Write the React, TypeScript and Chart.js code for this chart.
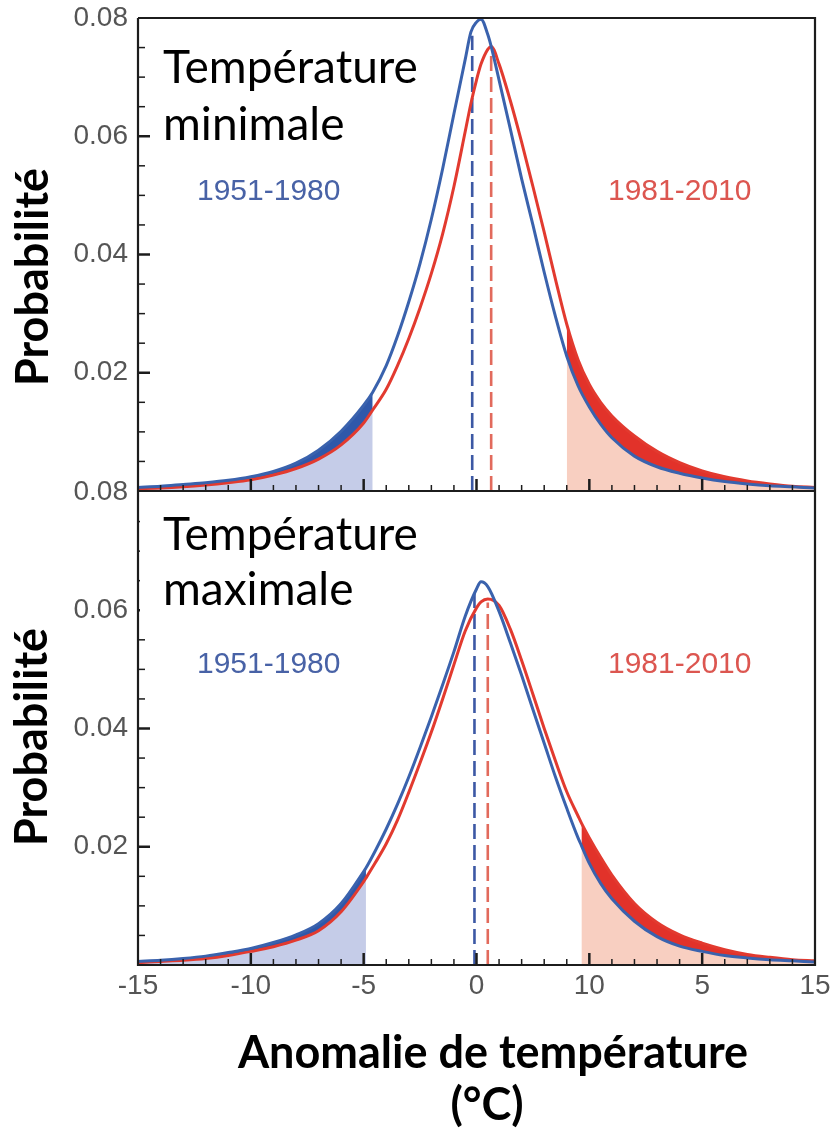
import { useEffect, useRef } from "react";
import { Chart, registerables } from "chart.js";

Chart.register(...registerables);

// ---------- axes ----------
const X_MIN = -15;
const X_MAX = 15;
const X_TICK_VALUES = [-15, -10, -5, 0, 5, 10, 15];
const X_TICK_LABELS = ["-15", "-10", "-5", "0", "10", "5", "15"];
const Y_MIN = 0;
const Y_MAX = 0.08;
const Y_TICKS = [0.02, 0.04, 0.06, 0.08];
const Y_MINOR_STEP = 0.005;
const X_MINOR_STEP = 1;

// ---------- panel 1 : Température minimale ----------
const MIN_X = [-15, -14, -13, -12, -11, -10, -9, -8, -7, -6, -5, -4.6, -4, -3.5, -3, -2.5, -2, -1.5, -1, -0.5, -0.25, 0, 0.2, 0.5, 0.65, 1, 1.5, 2, 2.5, 3, 3.5, 4, 4.5, 5, 5.5, 6, 7, 8, 9, 10, 11, 12, 13, 14, 15];
const MIN_1951_1980 = [0.0006, 0.0008, 0.0011, 0.0014, 0.0018, 0.0024, 0.0033, 0.0047, 0.0069, 0.0101, 0.0145, 0.0167, 0.0212, 0.0262, 0.032, 0.0385, 0.046, 0.0545, 0.0638, 0.073, 0.0776, 0.0793, 0.0798, 0.0772, 0.0752, 0.0695, 0.0612, 0.0528, 0.045, 0.037, 0.0295, 0.0228, 0.0178, 0.0142, 0.0113, 0.009, 0.0059, 0.0041, 0.003, 0.0022, 0.0016, 0.0012, 0.0009, 0.0007, 0.0005];
const MIN_1981_2010 = [0.0004, 0.0005, 0.0007, 0.001, 0.0014, 0.0019, 0.0027, 0.0038, 0.0054, 0.0078, 0.0115, 0.0137, 0.0172, 0.0212, 0.0258, 0.031, 0.0368, 0.0435, 0.0515, 0.0608, 0.0655, 0.0695, 0.0722, 0.0747, 0.0752, 0.0722, 0.066, 0.059, 0.0515, 0.0438, 0.0358, 0.0282, 0.0222, 0.018, 0.015, 0.0127, 0.0093, 0.0067, 0.0048, 0.0034, 0.0024, 0.0017, 0.0012, 0.0008, 0.0006];
const MIN_MEANS = [-0.19, 0.65];
const MIN_MEAN_TOPS = [0.077, 0.0743];
const MIN_TAIL_LIMITS = [-4.6, 4];

// ---------- panel 2 : Température maximale ----------
const MAX_X = [-15, -14, -13, -12, -11, -10, -9, -8, -7, -6, -5, -4.9, -4.5, -4, -3.5, -3, -2.5, -2, -1.5, -1, -0.5, 0, 0.2, 0.5, 1, 1.5, 2, 2.5, 3, 3.5, 4, 4.5, 4.65, 5, 5.5, 6, 7, 8, 9, 10, 11, 12, 13, 14, 15];
const MAX_1951_1980 = [0.0006, 0.0008, 0.0011, 0.0015, 0.0021, 0.0028, 0.0038, 0.0051, 0.007, 0.0104, 0.0158, 0.0164, 0.0192, 0.023, 0.0272, 0.0318, 0.0368, 0.042, 0.0474, 0.053, 0.059, 0.0636, 0.0648, 0.064, 0.0598, 0.0545, 0.049, 0.0432, 0.0375, 0.0318, 0.0265, 0.0215, 0.0202, 0.0172, 0.0138, 0.0112, 0.0074, 0.0048, 0.0032, 0.0023, 0.0016, 0.0012, 0.0009, 0.0007, 0.0005];
const MAX_1981_2010 = [0.0004, 0.0006, 0.0008, 0.0011, 0.0016, 0.0023, 0.0031, 0.0042, 0.0058, 0.009, 0.0141, 0.0147, 0.0172, 0.0205, 0.0245, 0.0292, 0.0342, 0.0394, 0.045, 0.0508, 0.0565, 0.0604, 0.0614, 0.0619, 0.0608, 0.0568, 0.0515, 0.0458, 0.04, 0.0345, 0.0293, 0.0252, 0.024, 0.0215, 0.0182, 0.0152, 0.0104, 0.0072, 0.0051, 0.0037, 0.0026, 0.0018, 0.0013, 0.0009, 0.0007];
const MAX_MEANS = [-0.09, 0.5];
const MAX_MEAN_TOPS = [0.0636, 0.0613];
const MAX_TAIL_LIMITS = [-4.9, 4.65];

// ---------- text ----------
const SERIES_LABELS = ["1951-1980", "1981-2010"];
const Y_TITLE = "Probabilité";
const X_TITLE = ["Anomalie de température", "(°C)"];
const PANEL_TITLES = [["Température", "minimale"], ["Température", "maximale"]];

// ---------- style ----------
const BLUE = "#3a62ad";
const RED = "#e23a2f";
const BLUE_DASH = "#3c58a4";
const RED_DASH = "#e26a5c";
const BLUE_PALE = "#c5cce8";
const RED_PALE = "#f8cfc1";
const BLUE_BAND = "#2f58aa";
const RED_BAND = "#e2322a";
const BLUE_TEXT = "#4862a6";
const RED_TEXT = "#dc5650";
const TICK_TEXT = "#555555";
const FRAME = "#1c1c1c";

type TextItem = {
  text: string;
  x: number;
  y: number;
  font: string;
  color: string;
  align?: CanvasTextAlign;
  rotate?: boolean;
};

type PanelOpts = {
  offsetY: number;
  drawTop: boolean;
  box?: [number, number, number, number];
  texts: TextItem[];
};

const panelPlugin = {
  id: "panel",
  afterDraw(chart: any, _args: any, o: PanelOpts) {
    const { ctx, chartArea: a, scales } = chart;
    const sx = scales.x;
    const sy = scales.y;
    ctx.save();
    ctx.strokeStyle = FRAME;
    ctx.lineCap = "butt";
    // y ticks (inside)
    const nY = Math.round((Y_MAX - Y_MIN) / Y_MINOR_STEP);
    for (let k = 1; k < nY; k++) {
      const v = Y_MIN + k * Y_MINOR_STEP;
      const major = k % 4 === 0;
      const py = sy.getPixelForValue(v);
      ctx.lineWidth = major ? 2.5 : 1.5;
      ctx.beginPath();
      ctx.moveTo(a.left, py);
      ctx.lineTo(a.left + (major ? 12 : 7), py);
      ctx.stroke();
    }
    // x ticks (inside)
    const nX = Math.round((X_MAX - X_MIN) / X_MINOR_STEP);
    for (let k = 1; k < nX; k++) {
      const u = X_MIN + k * X_MINOR_STEP;
      const major = k % 5 === 0;
      const px = sx.getPixelForValue(u);
      ctx.lineWidth = major ? 2.5 : 1.5;
      ctx.beginPath();
      ctx.moveTo(px, a.bottom);
      ctx.lineTo(px, a.bottom - (major ? 12 : 6));
      ctx.stroke();
    }
    // frame
    ctx.lineWidth = 2.2;
    ctx.beginPath();
    ctx.moveTo(a.left, a.top);
    ctx.lineTo(a.left, a.bottom);
    ctx.lineTo(a.right, a.bottom);
    ctx.lineTo(a.right, a.top);
    if (o.drawTop) ctx.lineTo(a.left, a.top);
    ctx.stroke();
    // white label box
    if (o.box) {
      ctx.fillStyle = "#ffffff";
      ctx.fillRect(o.box[0], o.box[1] - o.offsetY, o.box[2], o.box[3]);
    }
    // texts
    for (const t of o.texts) {
      ctx.save();
      ctx.font = t.font;
      ctx.fillStyle = t.color;
      ctx.textAlign = t.align || "left";
      ctx.textBaseline = "alphabetic";
      if (t.rotate) {
        ctx.translate(t.x, t.y - o.offsetY);
        ctx.rotate(-Math.PI / 2);
        ctx.fillText(t.text, 0, 0);
      } else {
        ctx.fillText(t.text, t.x, t.y - o.offsetY);
      }
      ctx.restore();
    }
    ctx.restore();
  },
};

function buildDatasets(
  xs: number[],
  blue: number[],
  red: number[],
  means: number[],
  tops: number[],
  limits: number[]
) {
  const bluePts = xs.map((x, i) => ({ x, y: blue[i] }));
  const redPts = xs.map((x, i) => ({ x, y: red[i] }));
  const common = {
    pointRadius: 0,
    cubicInterpolationMode: "monotone" as const,
  };
  const none = "rgba(0,0,0,0)";
  return [
    // 0 : pale blue under the lower curve, left tail
    { ...common, data: redPts.filter((p) => p.x <= limits[0]), borderWidth: 0, borderColor: none, backgroundColor: BLUE_PALE, fill: "origin", order: 3 },
    // 1 : dark blue band between curves, left tail
    { ...common, data: bluePts.filter((p) => p.x <= limits[0]), borderWidth: 0, borderColor: none, backgroundColor: BLUE_BAND, fill: "-1", order: 3 },
    // 2 : pale red under the lower curve, right tail
    { ...common, data: bluePts.filter((p) => p.x >= limits[1]), borderWidth: 0, borderColor: none, backgroundColor: RED_PALE, fill: "origin", order: 3 },
    // 3 : dark red band between curves, right tail
    { ...common, data: redPts.filter((p) => p.x >= limits[1]), borderWidth: 0, borderColor: none, backgroundColor: RED_BAND, fill: "-1", order: 3 },
    // 4 / 5 : curves
    { ...common, label: SERIES_LABELS[0], data: bluePts, borderColor: BLUE, borderWidth: 3, fill: false, order: 0 },
    { ...common, label: SERIES_LABELS[1], data: redPts, borderColor: RED, borderWidth: 3, fill: false, order: 0 },
    // 6 / 7 : mean lines
    { pointRadius: 0, data: [{ x: means[0], y: 0 }, { x: means[0], y: tops[0] }], borderColor: BLUE_DASH, borderWidth: 2.6, borderDash: [15, 6], fill: false, order: 1 },
    { pointRadius: 0, data: [{ x: means[1], y: 0 }, { x: means[1], y: tops[1] }], borderColor: RED_DASH, borderWidth: 2.6, borderDash: [15, 6], fill: false, order: 1 },
  ];
}

function makeConfig(
  datasets: any[],
  showX: boolean,
  padTop: number,
  padBottom: number,
  xHeight: number,
  panel: PanelOpts
): any {
  return {
    type: "line",
    data: { datasets },
    plugins: [panelPlugin],
    options: {
      responsive: false,
      animation: false,
      devicePixelRatio: 1,
      layout: { padding: { left: 0, right: 17, top: padTop, bottom: padBottom } },
      plugins: {
        legend: { display: false },
        tooltip: { enabled: false },
        panel,
      },
      scales: {
        x: {
          type: "linear",
          min: X_MIN,
          max: X_MAX,
          display: showX,
          grid: { display: false, drawTicks: false },
          border: { display: false },
          afterBuildTicks: (s: any) => {
            s.ticks = X_TICK_VALUES.map((v) => ({ value: v }));
          },
          ticks: {
            padding: 4,
            color: TICK_TEXT,
            font: { family: "Liberation Sans", size: 28 },
            maxRotation: 0,
            autoSkip: false,
            callback: (v: number) => {
              const i = X_TICK_VALUES.indexOf(Number(v));
              return i >= 0 ? X_TICK_LABELS[i] : "";
            },
          },
          afterFit: (s: any) => {
            s.height = xHeight;
            s.paddingLeft = 0;
            s.paddingRight = 0;
          },
        },
        y: {
          type: "linear",
          min: Y_MIN,
          max: Y_MAX,
          grid: { display: false, drawTicks: false },
          border: { display: false },
          afterBuildTicks: (s: any) => {
            s.ticks = Y_TICKS.map((v) => ({ value: v }));
          },
          ticks: {
            padding: 10,
            color: TICK_TEXT,
            font: { family: "Liberation Sans", size: 28 },
            callback: (v: number) => Number(v).toFixed(2),
          },
          afterFit: (s: any) => {
            s.width = 138;
            s.paddingTop = 0;
            s.paddingBottom = 0;
          },
        },
      },
    },
  };
}

const TITLE_FONT = "400 46px Lato";
const AXIS_FONT = "700 45px Lato";
const XTITLE_FONT = "700 45px Lato";
const SERIES_FONT = "400 30px 'Liberation Sans'";

export default function App() {
  const topRef = useRef<HTMLCanvasElement>(null);
  const botRef = useRef<HTMLCanvasElement>(null);

  useEffect(() => {
    const topPanel: PanelOpts = {
      offsetY: 0,
      drawTop: true,
      texts: [
        { text: PANEL_TITLES[0][0], x: 163, y: 83, font: TITLE_FONT, color: "#000" },
        { text: PANEL_TITLES[0][1], x: 163, y: 140, font: TITLE_FONT, color: "#000" },
        { text: SERIES_LABELS[0], x: 197, y: 200, font: SERIES_FONT, color: BLUE_TEXT },
        { text: SERIES_LABELS[1], x: 608, y: 200, font: SERIES_FONT, color: RED_TEXT },
        { text: Y_TITLE, x: 48, y: 277, font: AXIS_FONT, color: "#000", align: "center", rotate: true },
      ],
    };
    const botPanel: PanelOpts = {
      offsetY: 460,
      drawTop: false,
      box: [140, 493, 298, 135],
      texts: [
        { text: PANEL_TITLES[1][0], x: 163, y: 550, font: TITLE_FONT, color: "#000" },
        { text: PANEL_TITLES[1][1], x: 163, y: 605, font: TITLE_FONT, color: "#000" },
        { text: SERIES_LABELS[0], x: 197, y: 673, font: SERIES_FONT, color: BLUE_TEXT },
        { text: SERIES_LABELS[1], x: 608, y: 673, font: SERIES_FONT, color: RED_TEXT },
        { text: Y_TITLE, x: 47, y: 737, font: AXIS_FONT, color: "#000", align: "center", rotate: true },
        { text: X_TITLE[0], x: 493, y: 1068, font: XTITLE_FONT, color: "#000", align: "center" },
        { text: X_TITLE[1], x: 487, y: 1120, font: XTITLE_FONT, color: "#000", align: "center" },
      ],
    };
    const c1 = new Chart(
      topRef.current as HTMLCanvasElement,
      makeConfig(
        buildDatasets(MIN_X, MIN_1951_1980, MIN_1981_2010, MIN_MEANS, MIN_MEAN_TOPS, MIN_TAIL_LIMITS),
        false,
        18,
        9,
        0,
        topPanel
      )
    );
    const c2 = new Chart(
      botRef.current as HTMLCanvasElement,
      makeConfig(
        buildDatasets(MAX_X, MAX_1951_1980, MAX_1981_2010, MAX_MEANS, MAX_MEAN_TOPS, MAX_TAIL_LIMITS),
        true,
        32,
        0,
        168,
        botPanel
      )
    );
    return () => {
      c1.destroy();
      c2.destroy();
    };
  }, []);

  return (
    <div style={{ position: "absolute", left: 0, top: 0, width: 832, height: 1133, background: "#ffffff" }}>
      <canvas ref={topRef} width={832} height={500} style={{ position: "absolute", left: 0, top: 0 }} />
      <canvas ref={botRef} width={832} height={673} style={{ position: "absolute", left: 0, top: 460 }} />
    </div>
  );
}
